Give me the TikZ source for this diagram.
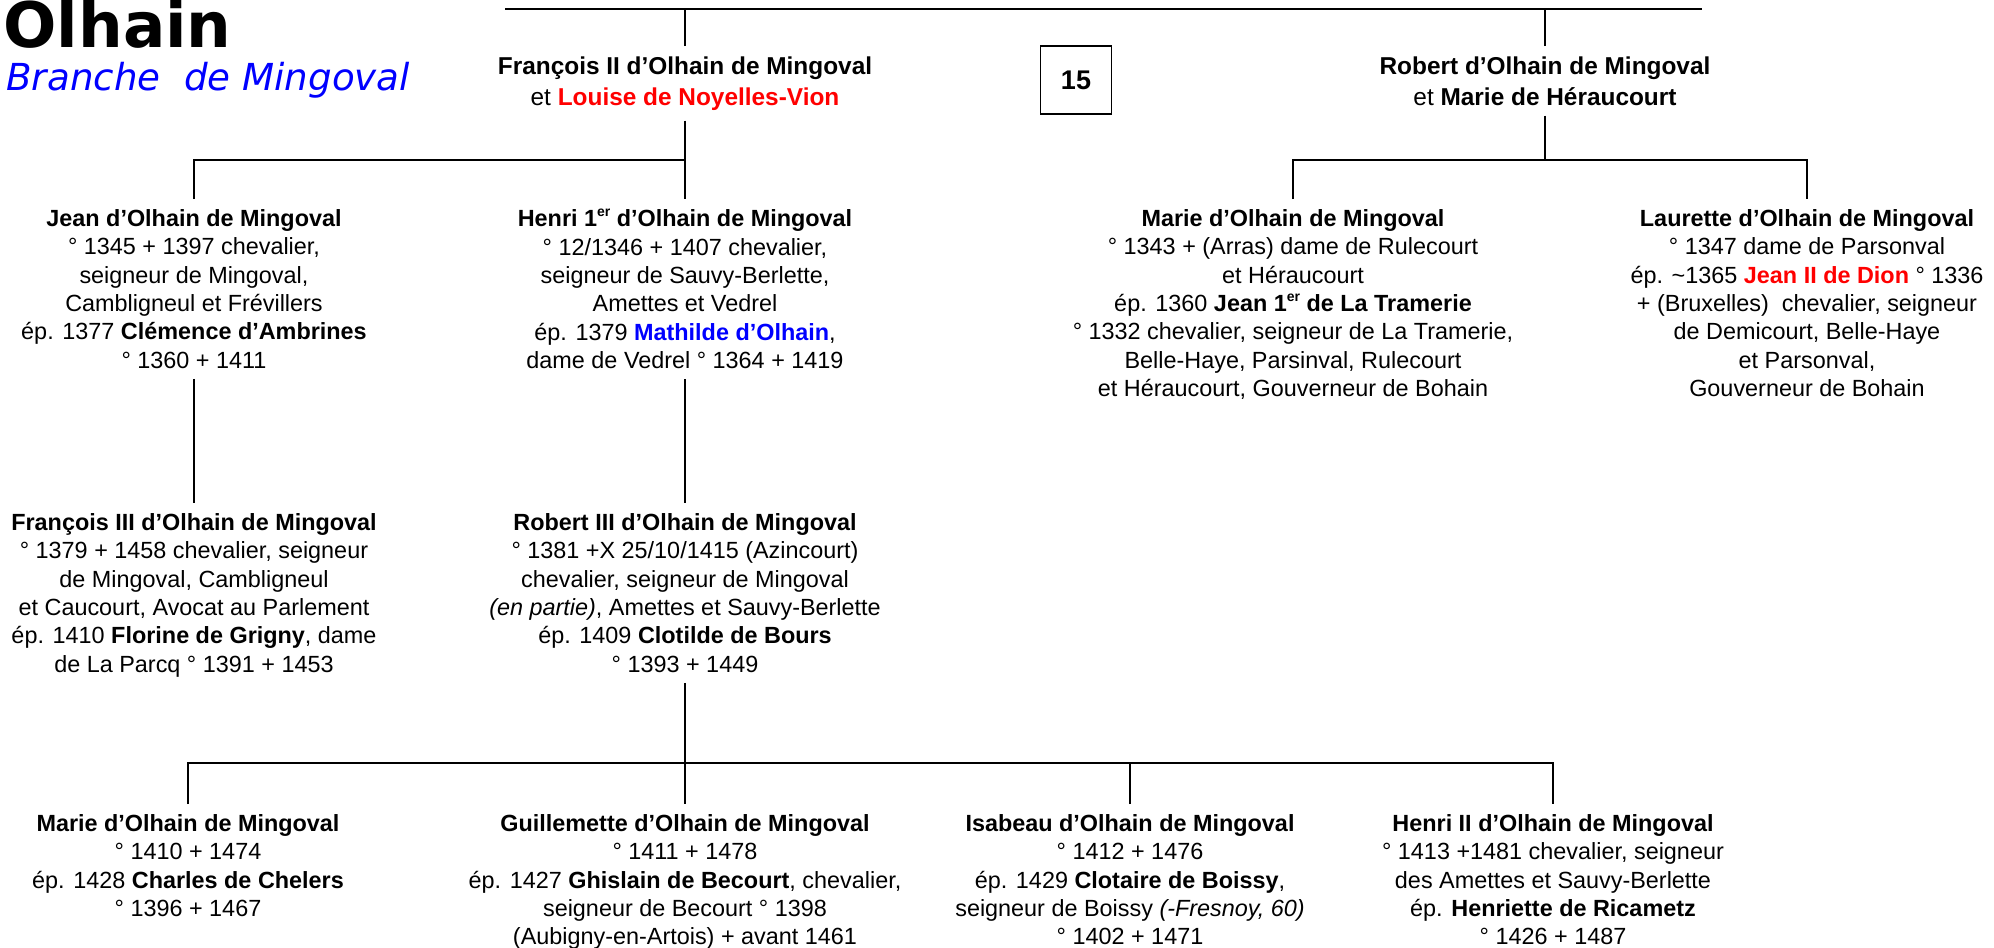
\documentclass[tikz,border=0pt]{standalone}
\usepackage{fontspec}
\setmainfont{Liberation Sans}
\newfontfamily\titlefont{DejaVu Sans}
\usetikzlibrary{positioning}

% small raised ordinal (1er)
\newcommand\exposant[1]{\raisebox{0.42em}{\fontsize{7}{7}\selectfont #1}}

\begin{document}
\begin{tikzpicture}[
    x=0.5pt, y=-0.5pt,
    every node/.style={inner sep=0pt},
    person/.style={
        align=center,
        anchor=north,
        inner xsep=2pt,
        inner ysep=5pt,
        font=\fontsize{11.7}{14.2}\selectfont
    },
    couple/.style={
        align=center,
        anchor=north,
        inner xsep=2pt,
        inner ysep=5pt,
        font=\fontsize{12.2}{15.5}\selectfont
    },
    branch/.style={line width=1.4pt}
]
\useasboundingbox (0,0) rectangle (1994,948);

% ------------------------
% Title
% ------------------------
\node (title) [anchor=base west,
  font=\titlefont\bfseries\fontsize{31.4}{36}\selectfont] at (3,47)
{Olhain};

\node (subtitle) [anchor=base west, text=blue,
  font=\titlefont\itshape\fontsize{18.6}{22}\selectfont] at (6,90)
{Branche\ \ de Mingoval};

\node (num) [draw, line width=0.7pt,
  minimum width=35.5pt, minimum height=34pt,
  font=\bfseries\fontsize{13.5}{16}\selectfont] at (1076,80)
{15};

% ------------------------
% Couples (top)
% ------------------------
\node (fr2) [couple] at (685,46)
{\textbf{François II d’Olhain de Mingoval}\\
et \textcolor{red}{\textbf{Louise de Noyelles-Vion}}};

\node (rob) [couple] at (1545,46)
{\textbf{Robert d’Olhain de Mingoval}\\
et \textbf{Marie de Héraucourt}};

% ------------------------
% Children
% ------------------------
\node (jean) [person] at (194,199)
{\textbf{Jean d’Olhain de Mingoval}\\
° 1345 + 1397 chevalier,\\
seigneur de Mingoval,\\
Cambligneul et Frévillers\\
ép. 1377 \textbf{Clémence d’Ambrines}\\
° 1360 + 1411};

\node (henri1) [person] at (685,199)
{\textbf{Henri 1\exposant{er} d’Olhain de Mingoval}\\
° 12/1346 + 1407 chevalier,\\
seigneur de Sauvy-Berlette,\\
Amettes et Vedrel\\
ép. 1379 \textcolor{blue}{\textbf{Mathilde d’Olhain}},\\
dame de Vedrel ° 1364 + 1419};

\node (marie) [person] at (1293,199)
{\textbf{Marie d’Olhain de Mingoval}\\
° 1343 + (Arras) dame de Rulecourt\\
et Héraucourt\\
ép. 1360 \textbf{Jean 1\exposant{er} de La Tramerie}\\
° 1332 chevalier, seigneur de La Tramerie,\\
Belle-Haye, Parsinval, Rulecourt\\
et Héraucourt, Gouverneur de Bohain};

\node (laur) [person] at (1807,199)
{\textbf{Laurette d’Olhain de Mingoval}\\
° 1347 dame de Parsonval\\
ép. \textasciitilde1365 \textcolor{red}{\textbf{Jean II de Dion}} ° 1336\\
+ (Bruxelles)\ \ chevalier, seigneur\\
de Demicourt, Belle-Haye\\
et Parsonval,\\
Gouverneur de Bohain};

% ------------------------
% Grandchildren
% ------------------------
\node (fr3) [person] at (194,503)
{\textbf{François III d’Olhain de Mingoval}\\
° 1379 + 1458 chevalier, seigneur\\
de Mingoval, Cambligneul\\
et Caucourt, Avocat au Parlement\\
ép. 1410 \textbf{Florine de Grigny}, dame\\
de La Parcq ° 1391 + 1453};

\node (rob3) [person] at (685,503)
{\textbf{Robert III d’Olhain de Mingoval}\\
° 1381 +X 25/10/1415 (Azincourt)\\
chevalier, seigneur de Mingoval\\
\textit{(en partie)}, Amettes et Sauvy-Berlette\\
ép. 1409 \textbf{Clotilde de Bours}\\
° 1393 + 1449};

% ------------------------
% Great-grandchildren (bottom)
% ------------------------
\node (marie2) [person] at (188,804)
{\textbf{Marie d’Olhain de Mingoval}\\
° 1410 + 1474\\
ép. 1428 \textbf{Charles de Chelers}\\
° 1396 + 1467};

\node (guil) [person] at (685,804)
{\textbf{Guillemette d’Olhain de Mingoval}\\
° 1411 + 1478\\
ép. 1427 \textbf{Ghislain de Becourt}, chevalier,\\
seigneur de Becourt ° 1398\\
(Aubigny-en-Artois) + avant 1461};

\node (isab) [person] at (1130,804)
{\textbf{Isabeau d’Olhain de Mingoval}\\
° 1412 + 1476\\
ép. 1429 \textbf{Clotaire de Boissy},\\
seigneur de Boissy \textit{(-Fresnoy, 60)}\\
° 1402 + 1471};

\node (henri2) [person] at (1553,804)
{\textbf{Henri II d’Olhain de Mingoval}\\
° 1413 +1481 chevalier, seigneur\\
des Amettes et Sauvy-Berlette\\
ép. \textbf{Henriette de Ricametz}\\
° 1426 + 1487};

% ------------------------
% Connectors
% ------------------------
\coordinate (topL) at (505,9);
\coordinate (topR) at (1702,9);
\coordinate (barA) at (0,160);
\coordinate (barB) at (0,763);

\draw[branch] (topL) -- (topR);
\draw[branch] (fr2.north) -- (fr2.north |- topL);
\draw[branch] (rob.north) -- (rob.north |- topL);

\draw[branch] (fr2.south) -- (fr2.south |- barA);
\draw[branch] (jean.north) |- (henri1.north |- barA) -- (henri1.north);
\draw[branch] (rob.south) -- (rob.south |- barA);
\draw[branch] (marie.north) |- (laur.north |- barA) -- (laur.north);

\draw[branch] (jean.south) -- (fr3.north);
\draw[branch] (henri1.south) -- (rob3.north);

\draw[branch] (rob3.south) -- (guil.north);
\draw[branch] (marie2.north) |- (henri2.north |- barB) -- (henri2.north);
\draw[branch] (isab.north) -- (isab.north |- barB);

\end{tikzpicture}
\end{document}
